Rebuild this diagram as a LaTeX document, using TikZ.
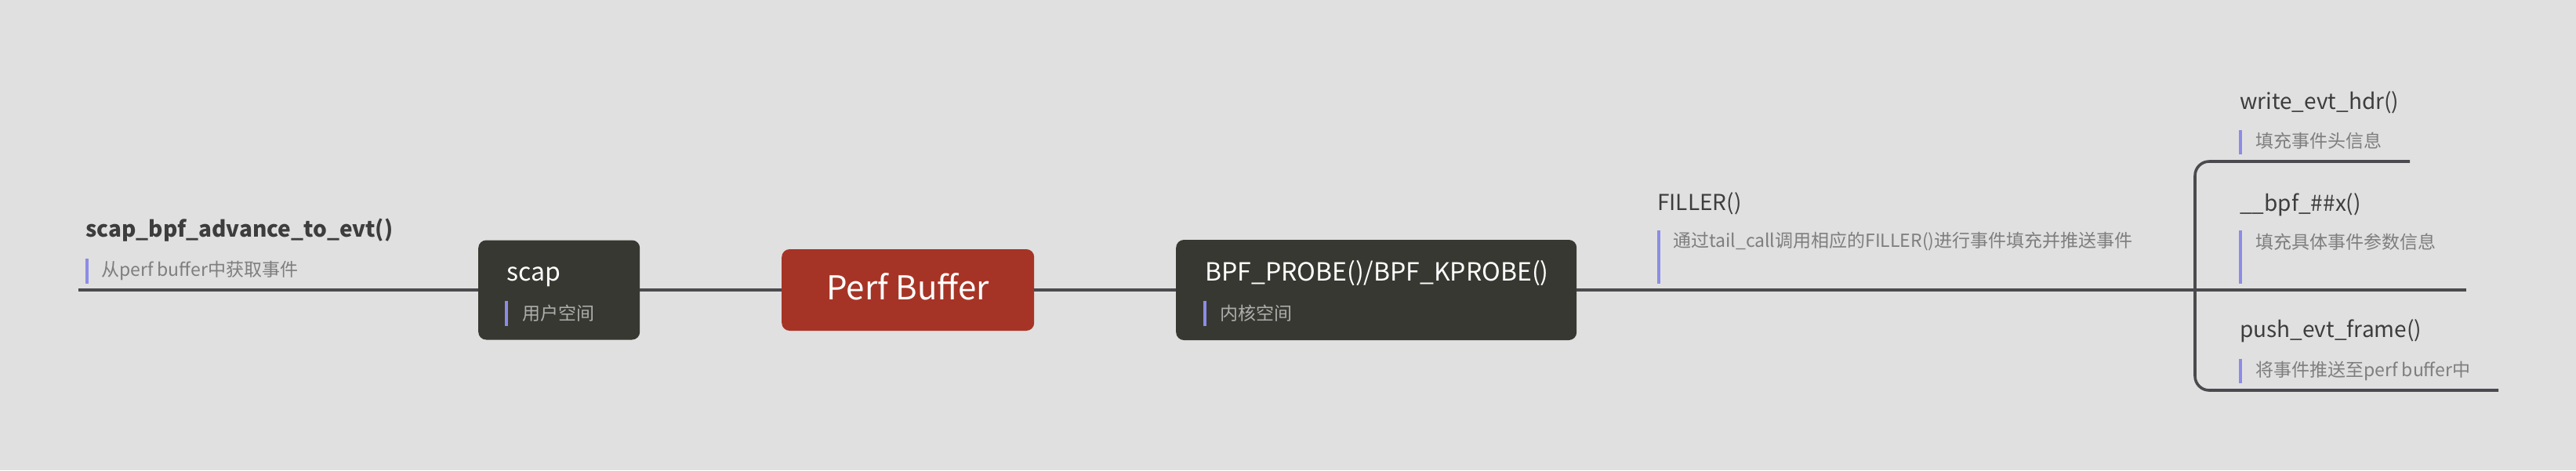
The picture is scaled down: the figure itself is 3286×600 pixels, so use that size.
\documentclass[tikz,border=0pt]{standalone}
\usepackage{fontspec}
\setmainfont{Noto Sans CJK SC}
\definecolor{bg}{HTML}{E0E0E0}
\definecolor{dark}{HTML}{383832}
\definecolor{perfred}{HTML}{A63426}
\definecolor{linec}{HTML}{4B4A4F}
\definecolor{titlec}{HTML}{3D3D3D}
\definecolor{subc}{HTML}{7E7E7E}
\definecolor{subl}{HTML}{ADADAD}
\definecolor{barc}{HTML}{8C8CE6}
\begin{document}
\begin{tikzpicture}[x=1pt,y=-1pt,
  conn/.style={draw=linec,line width=3.6pt},
  title/.style={anchor=base west,inner sep=0pt,text=titlec,font=\fontsize{28}{30}\selectfont},
  boxtitle/.style={anchor=base west,inner sep=0pt,text=white,font=\fontsize{32}{34}\selectfont},
  desc/.style={anchor=west,inner sep=0pt,text=subc,font=\fontsize{23}{25}\selectfont},
  boxdesc/.style={desc,text=subl},
  box/.style={fill=dark,rounded corners=10pt,inner sep=0pt,anchor=west},
]
\fill[bg] (0,0) rectangle (3286,600);
\useasboundingbox (0,0) rectangle (3286,600);

% boxes
\node[box,minimum width=206pt,minimum height=127pt] (scap) at (610,370) {};
\node[box,fill=perfred,minimum width=322pt,minimum height=104pt] (perf) at (997,370) {};
\node[box,minimum width=511pt,minimum height=128pt] (bpf) at (1500,370) {};

% coordinates
\coordinate (advL) at (100,370);
\coordinate (fork) at (2800,370);
\coordinate (bpfxEnd) at (3146,370);
\coordinate (wEnd) at (3074,206);
\coordinate (pEnd) at (3187,498);

% connectors
\draw[conn] (advL) -- (scap.west);
\draw[conn] (scap.east) -- (perf.west);
\draw[conn] (perf.east) -- (bpf.west);
\draw[conn] (bpf.east) -- (bpfxEnd);
\draw[conn,rounded corners=18pt] (wEnd) -- (fork |- wEnd) -- (fork |- pEnd) -- (pEnd);

% bars
\fill[barc] (109,330) rectangle (113,362);
\fill[barc] (644,384) rectangle (648,416);
\fill[barc] (1535,384) rectangle (1539,416);
\fill[barc] (2114,294) rectangle (2118,362);
\fill[barc] (2856,166) rectangle (2860,197);
\fill[barc] (2856,294) rectangle (2860,362);
\fill[barc] (2856,458) rectangle (2860,489);

% texts
\node[title,font=\fontsize{28}{30}\selectfont\bfseries] (adv) at (109,302) {scap\_bpf\_advance\_to\_evt()};
\node[desc] (advd) at (129,345) {从perf buffer中获取事件};

\node[boxtitle] (scapt) at (646,358) {scap};
\node[boxdesc] (scapd) at (666,400) {用户空间};

\node[anchor=base,inner sep=0pt,text=white,font=\fontsize{42}{44}\selectfont] (perft) at (1158,382) {Perf Buffer};

\node[boxtitle] (bpft) at (1537,358) {BPF\_PROBE()/BPF\_KPROBE()};
\node[boxdesc] (bpfd) at (1556,400) {内核空间};

\node[title] (filler) at (2114,268) {FILLER()};
\node[desc] (fillerd) at (2134,308) {通过tail\_call调用相应的FILLER()进行事件填充并推送事件};

\node[title] (write) at (2857,139) {write\_evt\_hdr()};
\node[desc] (writed) at (2877,180) {填充事件头信息};

\node[title] (bpfx) at (2857,269) {\_\_bpf\_\#\#x()};
\node[desc] (bpfxd) at (2877,309) {填充具体事件参数信息};

\node[title] (push) at (2857,430) {push\_evt\_frame()};
\node[desc] (pushd) at (2877,473) {将事件推送至perf buffer中};
\end{tikzpicture}
\end{document}
